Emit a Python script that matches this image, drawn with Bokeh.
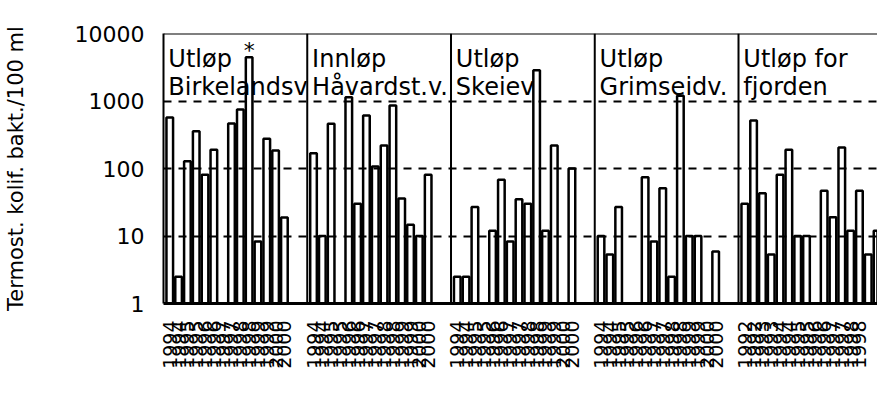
import math
from bokeh.plotting import figure
from bokeh.models import ColumnDataSource, FixedTicker, Span, Label, Range1d, NumeralTickFormatter
from bokeh.embed import file_html
from bokeh.resources import INLINE
from bokeh.core.properties import value

# ---------------- data ----------------
station_line1 = ["Utløp", "Innløp", "Utløp", "Utløp", "Utløp for"]
station_line2 = ["Birkelandsv", "Håvardst.v.", "Skeiev", "Grimseidv.", "fjorden"]

years_94_00 = ["1994", "1994", "1995", "1995", "1996", "1996", "1997", "1997",
               "1998", "1998", "1999", "1999", "2000", "2000"]
years_92_99 = ["1992", "1992", "1993", "1993", "1994", "1994", "1995", "1995",
               "1996", "1996", "1997", "1997", "1998", "1998", "1999", "1999"]

birkelandsv = [570, 2.5, 128, 357, 81, 190, None, 465, 750, 4450, 8.3, 276, 185, 18.8]
havardst = [168, 10, 460, None, 1140, 30, 610, 107, 220, 860, 36, 14.7, 10, 81]
skeiev = [2.5, 2.5, 27, None, 12, 68, 8.3, 35, 30, 2850, 12, 220, None, 100]
grimseid = [10, 5.3, 27, None, None, 74, 8.3, 51, 2.5, 1200, 10, 10, None, 5.9]
fjorden = [30, 515, 43, 5.3, 81, 190, 10, 10, None, 47, 19, 205, 12, 47, 5.3, 12]

panel_values = [birkelandsv, havardst, skeiev, grimseid, fjorden]
panel_years = [years_94_00, years_94_00, years_94_00, years_94_00, years_92_99]

flagged_panel, flagged_slot = 0, 9      # the bar marked with "*"
y_ticks = [1, 10, 100, 1000, 10000]
grid_levels = [10, 100, 1000]
y_title = "Termost. kolif. bakt./100 ml"
x_title = "År"

# ---------------- layout constants ----------------
SPAN = 16.3      # width of one station panel, in slot units
FIRST = 0.71     # offset of first slot inside a panel
X_END = 80.96    # right edge of the visible frame (chart is cut off)
Y_TOP = 10000

xs, tops = [], []
tick_pos, tick_lab = [], []
for p_i, (vals, yrs) in enumerate(zip(panel_values, panel_years)):
    base = p_i * SPAN + FIRST
    for k, (v, y) in enumerate(zip(vals, yrs)):
        pos = base + k
        if pos <= X_END - 1.2:          # labels past the cut edge are not drawn
            tick_pos.append(pos)
            tick_lab.append(y)
        if v is not None:
            xs.append(pos)
            tops.append(v)

src = ColumnDataSource(dict(x=xs, top=tops))

p = figure(width=877, height=414,
           x_range=Range1d(0, X_END), y_range=Range1d(1, Y_TOP),
           y_axis_type="log", output_backend="svg", toolbar_location=None,
           min_border_left=160, min_border_right=0,
           min_border_top=33, min_border_bottom=111)
p.outline_line_color = None
p.background_fill_color = "white"
p.border_fill_color = "white"

FONT = "DejaVu Sans"

# y axis
ya = p.yaxis[0]
ya.ticker = FixedTicker(ticks=y_ticks)
ya.formatter = NumeralTickFormatter(format="0")
ya.major_label_text_font = FONT
ya.major_label_text_font_size = "22px"
ya.major_label_text_color = "black"
ya.major_tick_line_color = None
ya.minor_tick_line_color = None
ya.axis_line_color = "black"
ya.axis_line_width = 2
ya.major_label_standoff = 13
ya.axis_label = y_title
ya.axis_label_text_font = FONT
ya.axis_label_text_font_size = "21px"
ya.axis_label_text_font_style = "normal"
ya.axis_label_text_color = "black"
ya.axis_label_standoff = 44

# x axis
xa = p.xaxis[0]
xa.ticker = FixedTicker(ticks=tick_pos)
xa.major_label_overrides = {pos: lab for pos, lab in zip(tick_pos, tick_lab)}
xa.major_label_orientation = math.pi / 2
xa.major_label_text_font = FONT
xa.major_label_text_font_size = "19px"
xa.major_label_text_color = "black"
xa.major_label_standoff = 11
xa.major_tick_line_color = None
xa.minor_tick_line_color = None
xa.axis_line_color = "black"
xa.axis_line_width = 3

# grid
p.xgrid.visible = False
p.ygrid.ticker = FixedTicker(ticks=grid_levels)
p.ygrid.grid_line_color = "black"
p.ygrid.grid_line_width = 2
p.ygrid.grid_line_dash = "8 7"

# panel separators and top line
for i in range(1, len(panel_values)):
    p.add_layout(Span(location=i * SPAN, dimension="height",
                      line_color="black", line_width=2))
p.add_layout(Span(location=Y_TOP, dimension="width", line_color="black", line_width=2))

# bars
p.vbar(x="x", top="top", bottom=1, width=0.75, source=src,
       fill_color=None, line_color="black", line_width=2.5)

# station titles
title_x = [i * SPAN + 0.55 for i in range(len(panel_values))]
p.text(x=title_x, y=[Y_TOP] * len(title_x), text=station_line1,
       text_font=value(FONT), text_font_size="24px", text_color="black",
       text_baseline="alphabetic", text_align="left", y_offset=25)
p.text(x=title_x, y=[Y_TOP] * len(title_x), text=station_line2,
       text_font=value(FONT), text_font_size="24px", text_color="black",
       text_baseline="alphabetic", text_align="left", y_offset=53)

# asterisk over flagged bar
fx = flagged_panel * SPAN + FIRST + flagged_slot
fy = panel_values[flagged_panel][flagged_slot]
p.text(x=[fx], y=[fy], text=["*"], text_font=value(FONT), text_font_size="22px",
       text_color="black", text_align="center", text_baseline="middle", y_offset=-7)

# x title
p.add_layout(Label(x=47.06, y=0.058, text=x_title, text_font=FONT,
                   text_font_size="22px", text_color="black",
                   text_align="center", text_baseline="middle"))

open("out.html", "w").write(file_html(p, INLINE))
